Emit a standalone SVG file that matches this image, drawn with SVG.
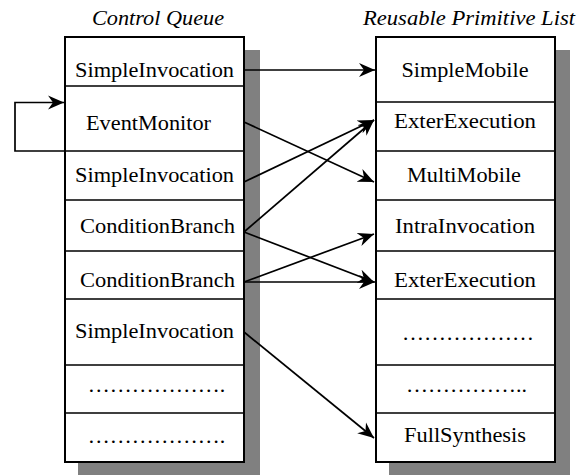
<svg xmlns="http://www.w3.org/2000/svg" width="586" height="475" viewBox="0 0 586 475">
<style>
text{font-family:"Liberation Serif","Times New Roman",Times,serif;font-size:22px;fill:#000;text-anchor:middle}
.t{font-style:italic}
.shadow{fill:#808080;stroke:none}
.box{fill:#fff;stroke:#000;stroke-width:2}
.div{stroke:#000;stroke-width:1.6;fill:none}
.c{stroke:#000;stroke-width:1.7;fill:none;marker-end:url(#ah)}
</style>
<defs>
<marker id="ah" markerUnits="userSpaceOnUse" viewBox="-16 -8 17 16" refX="0" refY="0" markerWidth="17" markerHeight="16" orient="auto">
<path d="M0,0 L-16,-7 L-11,0 L-16,7 Z" fill="#000"/>
</marker>
</defs>
<g id="control-queue">
<text class="t" x="158" y="25" textLength="132" lengthAdjust="spacingAndGlyphs">Control Queue</text>
<rect class="shadow" x="244" y="50" width="16" height="425"/>
<rect class="shadow" x="78" y="462" width="182" height="13"/>
<rect class="box" x="65" y="37" width="179" height="425"/>
<path class="div" d="M65,86H244M65,151H244M65,200H244M65,251H244M65,299H244M65,365H244M65,413H244"/>
<text x="154.5" y="77" textLength="159" lengthAdjust="spacingAndGlyphs">SimpleInvocation</text>
<text x="148.5" y="130" textLength="125" lengthAdjust="spacingAndGlyphs">EventMonitor</text>
<text x="154.5" y="182" textLength="159" lengthAdjust="spacingAndGlyphs">SimpleInvocation</text>
<text x="157.5" y="233" textLength="155" lengthAdjust="spacingAndGlyphs">ConditionBranch</text>
<text x="157.5" y="287" textLength="155" lengthAdjust="spacingAndGlyphs">ConditionBranch</text>
<text x="154.5" y="338" textLength="159" lengthAdjust="spacingAndGlyphs">SimpleInvocation</text>
<text x="156.5" y="392">……………….</text>
<text x="156.5" y="443">……………….</text>
</g>
<g id="primitive-list">
<text class="t" x="469" y="25" textLength="212" lengthAdjust="spacingAndGlyphs">Reusable Primitive List</text>
<rect class="shadow" x="555" y="50" width="15" height="425"/>
<rect class="shadow" x="389" y="462" width="181" height="13"/>
<rect class="box" x="376" y="37" width="179" height="425"/>
<path class="div" d="M376,102H555M376,151H555M376,200H555M376,251H555M376,299H555M376,365H555M376,413H555"/>
<text x="465" y="77" textLength="127" lengthAdjust="spacingAndGlyphs">SimpleMobile</text>
<text x="465" y="128" textLength="142" lengthAdjust="spacingAndGlyphs">ExterExecution</text>
<text x="464" y="182" textLength="114" lengthAdjust="spacingAndGlyphs">MultiMobile</text>
<text x="465" y="233" textLength="140" lengthAdjust="spacingAndGlyphs">IntraInvocation</text>
<text x="465" y="287" textLength="142" lengthAdjust="spacingAndGlyphs">ExterExecution</text>
<text x="468" y="340">………………</text>
<text x="466.5" y="392">……………..</text>
<text x="465" y="442" textLength="122" lengthAdjust="spacingAndGlyphs">FullSynthesis</text>
</g>
<g id="connectors">
<path class="c" d="M244,70H375"/>
<path class="c" d="M65,151H15V102.5H64"/>
<path class="c" d="M244,122L374,182"/>
<path class="c" d="M244,182L374,120"/>
<path class="c" d="M244,232L374,120"/>
<path class="c" d="M244,232L374,282"/>
<path class="c" d="M244,282L374,234"/>
<path class="c" d="M244,282H375"/>
<path class="c" d="M244,332L374,438"/>
</g>
</svg>
